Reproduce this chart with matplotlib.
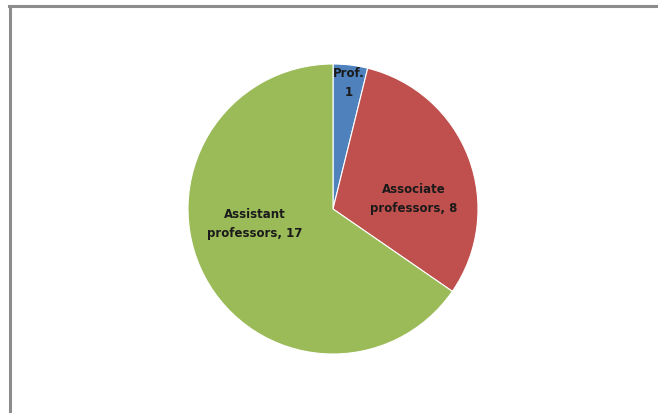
import numpy as np
import matplotlib
matplotlib.use("Agg")
import matplotlib.pyplot as plt
from matplotlib.lines import Line2D

# staff by rank
categories = ["Prof.", "Associate\nprofessors", "Assistant\nprofessors"]
counts = [1, 8, 17]
colors = ["#4F81BD", "#C0504D", "#9BBB59"]

# label placement inside each wedge: (radius, angle in degrees)
label_polar = [(0.88, 83.0), (0.56, 8.0), (0.55, -170.0)]

fig = plt.figure(figsize=(6.58, 4.14), dpi=100)
fig.patch.set_facecolor("white")

# chart frame: grey top and left edges only
fig.add_artist(Line2D([8.5 / 658, 656 / 658], [1 - 6.5 / 414, 1 - 6.5 / 414],
                      transform=fig.transFigure, color="#8c8c8c", lw=2.2))
fig.add_artist(Line2D([9.5 / 658, 9.5 / 658], [0, 1 - 6.5 / 414],
                      transform=fig.transFigure, color="#8c8c8c", lw=2.2))

ax = fig.add_axes([188 / 658, 59 / 414, 290 / 658, 290 / 414])
wedges, _ = ax.pie(counts, colors=colors, startangle=90, counterclock=False,
                   radius=1.0, wedgeprops=dict(edgecolor="white", linewidth=0.8))
ax.set_xlim(-1, 1)
ax.set_ylim(-1, 1)
ax.set_aspect("equal")
ax.axis("off")

for (r, a), name, n in zip(label_polar, categories, counts):
    t = np.deg2rad(a)
    ax.text(r * np.cos(t), r * np.sin(t), f"{name}, {n}" if n > 1 else f"{name}\n{n}",
            ha="center", va="center", fontsize=8.5, fontweight="bold",
            color="#1a1a1a", linespacing=1.6, family="DejaVu Sans")

fig.savefig("out.png", dpi=100)
